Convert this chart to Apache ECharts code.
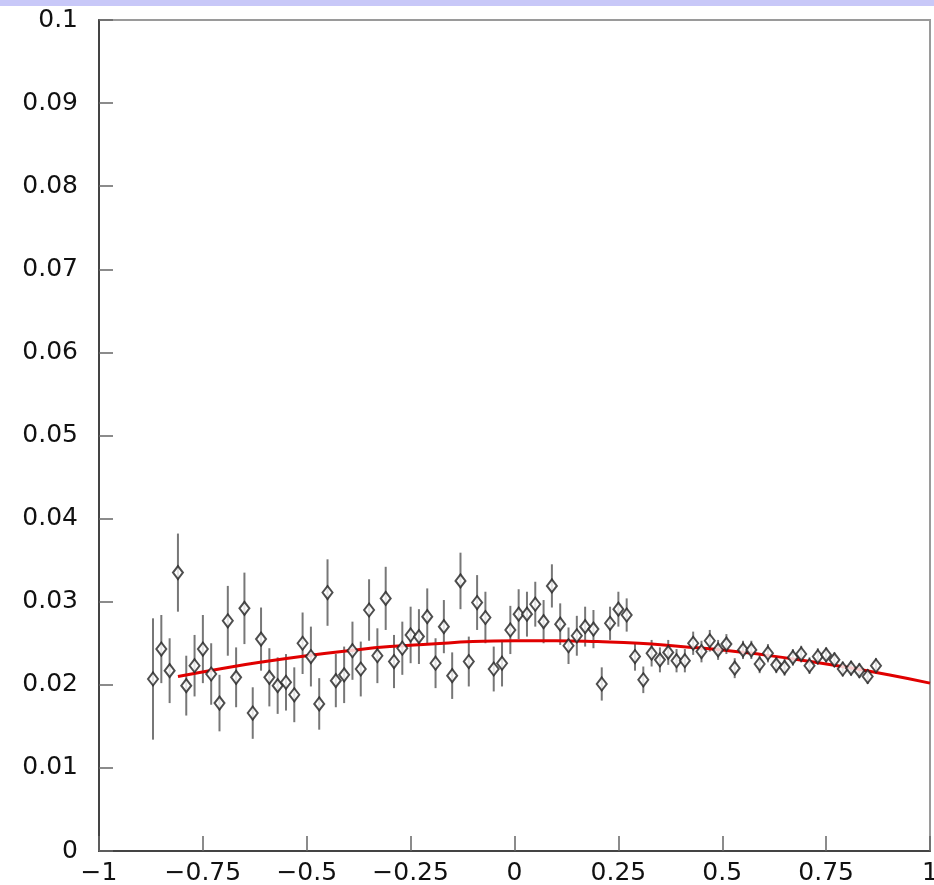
<!DOCTYPE html>
<html>
<head>
<meta charset="utf-8">
<script src="https://cdn.jsdelivr.net/npm/echarts@6/dist/echarts.min.js"></script>
<style>
  html, body { margin: 0; padding: 0; background: #fff; }
  #chart { width: 934px; height: 885px; }
</style>
</head>
<body>
<div id="chart"></div>
<script>
// Bin centres of the measured distribution
const binX = [
  -0.87, -0.85, -0.83, -0.81, -0.79, -0.77, -0.75, -0.73, -0.71, -0.69, -0.67,
  -0.65, -0.63, -0.61, -0.59, -0.57, -0.55, -0.53, -0.51, -0.49, -0.47, -0.45,
  -0.43, -0.41, -0.39, -0.37, -0.35, -0.33, -0.31, -0.29, -0.27, -0.25, -0.23,
  -0.21, -0.19, -0.17, -0.15, -0.13, -0.11, -0.09, -0.07, -0.05, -0.03, -0.01,
  0.01, 0.03, 0.05, 0.07, 0.09, 0.11, 0.13, 0.15, 0.17, 0.19, 0.21,
  0.23, 0.25, 0.27, 0.29, 0.31, 0.33, 0.35, 0.37, 0.39, 0.41, 0.43,
  0.45, 0.47, 0.49, 0.51, 0.53, 0.55, 0.57, 0.59, 0.61, 0.63, 0.65,
  0.67, 0.69, 0.71, 0.73, 0.75, 0.77, 0.79, 0.81, 0.83, 0.85, 0.87
];

// Measured values per bin
const binY = [
  0.0207, 0.0243, 0.0217, 0.0335, 0.0199, 0.0223, 0.0243, 0.0213, 0.0178, 0.0277, 0.0209,
  0.0292, 0.0166, 0.0255, 0.0209, 0.0199, 0.0203, 0.0188, 0.0250, 0.0234, 0.0177, 0.0311,
  0.0205, 0.0212, 0.0241, 0.0219, 0.0290, 0.0235, 0.0304, 0.0228, 0.0244, 0.0260, 0.0258,
  0.0282, 0.0226, 0.0270, 0.0211, 0.0325, 0.0228, 0.0299, 0.0281, 0.0219, 0.0226, 0.0266,
  0.0285, 0.0285, 0.0297, 0.0276, 0.0319, 0.0273, 0.0247, 0.0259, 0.0270, 0.0267, 0.0201,
  0.0274, 0.0291, 0.0284, 0.0234, 0.0206, 0.0238, 0.0230, 0.0239, 0.0229, 0.0229, 0.0250,
  0.0240, 0.0253, 0.0242, 0.0249, 0.0220, 0.0242, 0.0242, 0.0225, 0.0238, 0.0224, 0.0221,
  0.0233, 0.0237, 0.0223, 0.0234, 0.0236, 0.0230, 0.0219, 0.0220, 0.0217, 0.0210, 0.0223
];

// Statistical uncertainty per bin (half-length of the error bar)
const binErr = [
  0.0073, 0.0041, 0.0039, 0.0047, 0.0036, 0.0037, 0.0041, 0.0037, 0.0034, 0.0042, 0.0036,
  0.0043, 0.0031, 0.0038, 0.0035, 0.0034, 0.0034, 0.0033, 0.0037, 0.0036, 0.0031, 0.0040,
  0.0032, 0.0034, 0.0035, 0.0033, 0.0037, 0.0033, 0.0038, 0.0032, 0.0032, 0.0034, 0.0033,
  0.0034, 0.0030, 0.0032, 0.0028, 0.0034, 0.0030, 0.0033, 0.0031, 0.0027, 0.0028, 0.0029,
  0.0030, 0.0027, 0.0027, 0.0026, 0.0026, 0.0025, 0.0022, 0.0024, 0.0024, 0.0023, 0.0020,
  0.0020, 0.0021, 0.0020, 0.0017, 0.0016, 0.0016, 0.0015, 0.0015, 0.0014, 0.0014, 0.0014,
  0.0013, 0.0013, 0.0012, 0.0012, 0.0012, 0.0011, 0.0011, 0.0011, 0.0011, 0.0010, 0.0010,
  0.0010, 0.0010, 0.0010, 0.0010, 0.0009, 0.0009, 0.0009, 0.0009, 0.0009, 0.0009, 0.0009
];

// Fitted curve, sampled along x
const fitX = [-0.81, -0.7, -0.6, -0.5, -0.4, -0.3, -0.2, -0.1, 0.0, 0.1,
              0.2, 0.3, 0.4, 0.5, 0.6, 0.7, 0.8, 0.9, 1.0];
const fitY = [0.0210, 0.0220, 0.0228, 0.0235, 0.0241, 0.0246, 0.0249, 0.0252, 0.0253, 0.0253,
              0.0252, 0.0250, 0.0246, 0.0242, 0.0236, 0.0229, 0.0221, 0.0212, 0.0202];

// Axis tick settings
const xTickStep = 0.25;
const yTickStep = 0.01;

const points = binX.map((x, i) => [x, binY[i], binErr[i]]);
const fitLine = fitX.map((x, i) => [x, fitY[i]]);

const labelFont = {
  fontFamily: 'DejaVu Sans',
  fontSize: 25,
  color: '#111'
};

const chart = echarts.init(document.getElementById('chart'), null, { renderer: 'canvas' });

chart.setOption({
  animation: false,
  backgroundColor: '#ffffff',
  graphic: [{
    type: 'rect',
    left: 0, top: 0,
    shape: { width: 934, height: 6 },
    style: { fill: '#c8c8f8' },
    silent: true
  }],
  grid: {
    left: 99, right: 4, top: 20, bottom: 34,
    containLabel: false,
    outerBoundsMode: 'none',
    show: true,
    borderColor: '#9a9a9a',
    borderWidth: 2,
    backgroundColor: '#ffffff'
  },
  xAxis: {
    type: 'value',
    min: -1, max: 1, interval: xTickStep,
    splitLine: { show: false },
    axisLine: { onZero: false, lineStyle: { color: '#444', width: 2 } },
    axisTick: { inside: true, length: 15, lineStyle: { color: '#666', width: 1.5 } },
    axisLabel: Object.assign({
      margin: 10,
      formatter: v => String(Math.round(v * 100) / 100).replace('-', '\u2212')
    }, labelFont)
  },
  yAxis: {
    type: 'value',
    min: 0, max: 0.1, interval: yTickStep,
    splitLine: { show: false },
    axisLine: { onZero: false, lineStyle: { color: '#444', width: 2 } },
    axisTick: { inside: true, length: 14, lineStyle: { color: '#666', width: 1.5 } },
    axisLabel: Object.assign({
      margin: 21,
      formatter: v => String(Math.round(v * 1000) / 1000)
    }, labelFont)
  },
  series: [
    {
      // vertical error bars
      type: 'custom',
      data: points,
      encode: { x: 0, y: 1 },
      z: 2,
      renderItem: (params, api) => {
        const x = api.value(0), y = api.value(1), e = api.value(2);
        const lo = api.coord([x, y - e]);
        const hi = api.coord([x, y + e]);
        return {
          type: 'line',
          shape: { x1: lo[0], y1: lo[1], x2: hi[0], y2: hi[1] },
          style: { stroke: '#777777', lineWidth: 2 }
        };
      }
    },
    {
      type: 'line',
      data: fitLine,
      smooth: true,
      symbol: 'none',
      z: 3,
      lineStyle: { color: '#e00000', width: 3 }
    },
    {
      type: 'scatter',
      data: points,
      encode: { x: 0, y: 1 },
      symbol: 'diamond',
      symbolSize: [10, 13],
      z: 4,
      itemStyle: { color: '#ffffff', borderColor: '#222222', borderWidth: 2 }
    }
  ]
});
</script>
</body>
</html>
